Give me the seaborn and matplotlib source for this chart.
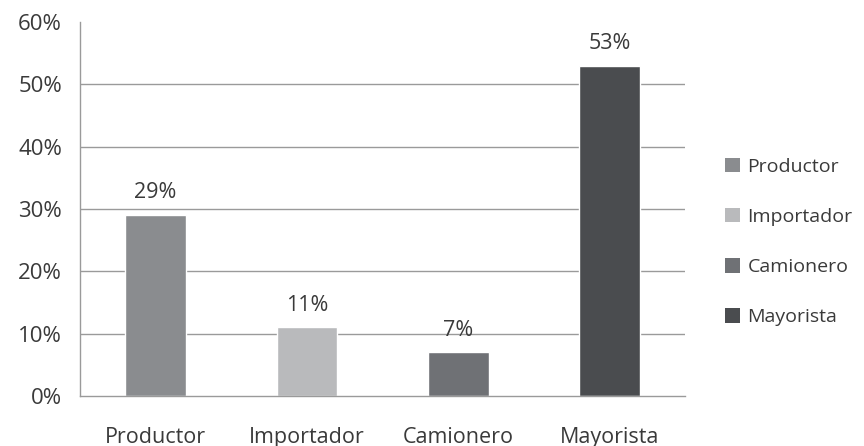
import numpy as np
import pandas as pd
import matplotlib
matplotlib.use("Agg")
import matplotlib.pyplot as plt
import seaborn as sns
from matplotlib.patches import Patch
from matplotlib.ticker import PercentFormatter, FixedLocator

# datos
categorias = ["Productor", "Importador", "Camionero", "Mayorista"]
porcentajes = [29, 11, 7, 53]
colores = ["#8a8c8f", "#b9babc", "#6f7175", "#4a4c4f"]

df = pd.DataFrame({"categoria": categorias, "valor": porcentajes})

sns.set_style("white")
plt.rcParams["font.family"] = ["Open Sans", "DejaVu Sans"]
texto = "#3a3a3a"
linea = "#9a9a9a"

fig = plt.figure(figsize=(8.64, 4.46), dpi=100)
ax = fig.add_axes([0.0926, 0.112, 0.7005, 0.839])

sns.barplot(data=df, x="categoria", y="valor", hue="categoria",
            palette=colores, width=0.4, legend=False, ax=ax, saturation=1)

# etiquetas sobre las barras
for i, v in enumerate(porcentajes):
    ax.text(i, v + 1.9, f"{v}%", ha="center", va="bottom", fontsize=15.5, color=texto)

ax.set_ylim(0, 60)
ax.set_xlim(-0.5, 3.5)
ax.set_yticks(np.arange(0, 61, 10))
ax.yaxis.set_major_formatter(PercentFormatter(decimals=0))
ax.set_xlabel("")
ax.set_ylabel("")

# lineas de cuadricula
for y in range(10, 60, 10):
    ax.axhline(y, color=linea, linewidth=1, zorder=0)

for s in ["top", "right"]:
    ax.spines[s].set_visible(False)
for s in ["left", "bottom"]:
    ax.spines[s].set_color(linea)
    ax.spines[s].set_linewidth(1)

ax.tick_params(axis="y", length=8, color=linea, labelsize=16, labelcolor=texto, pad=5, direction="out")
ax.tick_params(axis="x", which="major", length=0, labelsize=15.5, labelcolor=texto, pad=22)
ax.xaxis.set_minor_locator(FixedLocator([0.5, 1.5, 2.5, 3.5]))
ax.tick_params(axis="x", which="minor", length=8, color=linea, direction="out")

# leyenda
handles = [Patch(facecolor=c, edgecolor="none") for c in colores]
fig.legend(handles, categorias, loc="center left", bbox_to_anchor=(0.828, 0.457),
           frameon=False, fontsize=14, labelcolor=texto, labelspacing=1.65,
           handlelength=0.75, handleheight=0.75, handletextpad=0.4, borderpad=0)

fig.savefig("out.png", dpi=100)
plt.close(fig)
